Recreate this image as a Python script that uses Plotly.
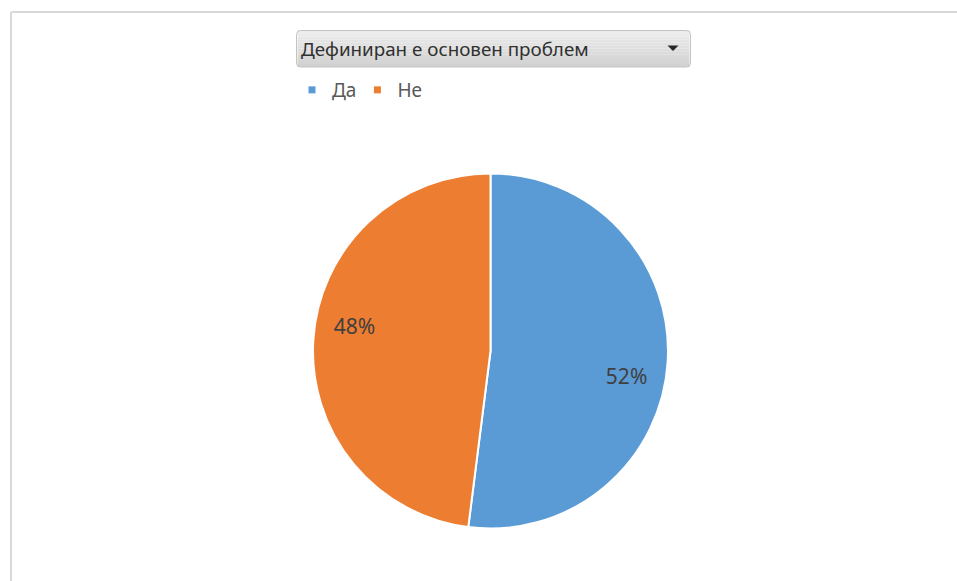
import plotly.graph_objects as go

# ---- data ----
categories = ["Да", "Не"]
values = [52, 48]
colors = ["#5B9BD5", "#ED7D31"]
filter_label = "Дефиниран е основен проблем"

W, H = 957, 581
FONT = "Noto Sans"


def px(x):
    return x / W


def py(y):
    return 1 - y / H


pie_domain = dict(x=[px(313), px(668)], y=[py(529), py(173)])

fig = go.Figure()

# the pie itself
fig.add_trace(go.Pie(
    labels=categories,
    values=values,
    sort=False,
    direction="clockwise",
    rotation=0,
    marker=dict(colors=colors, line=dict(color="white", width=2)),
    textinfo="none",
    domain=pie_domain,
    showlegend=False,
    hoverinfo="label+percent",
))

# percentage labels (same data, transparent ring so labels sit near the rim)
fig.add_trace(go.Pie(
    labels=categories,
    values=values,
    sort=False,
    direction="clockwise",
    rotation=7,
    hole=0.56,
    marker=dict(colors=["rgba(0,0,0,0)"] * len(values), line=dict(width=0)),
    textinfo="percent",
    textposition="inside",
    insidetextorientation="horizontal",
    textfont=dict(family=FONT, size=21, color="#404040"),
    domain=pie_domain,
    showlegend=False,
    hoverinfo="skip",
))

# legend entries (small square markers as in the original)
for name, col in zip(categories, colors):
    fig.add_trace(go.Scatter(
        x=[None], y=[None], mode="markers", name=name,
        marker=dict(symbol="square", size=7, color=col),
    ))

shapes = []
# chart area border (top and left)
shapes.append(dict(type="line", xref="paper", yref="paper",
                   x0=px(11), x1=1.01, y0=py(12), y1=py(12),
                   line=dict(color="#d9d9d9", width=2)))
shapes.append(dict(type="line", xref="paper", yref="paper",
                   x0=px(11), x1=px(11), y0=py(12), y1=-0.01,
                   line=dict(color="#d9d9d9", width=2)))

# filter dropdown button (rounded rectangle with gradient)
x0, x1, y0, y1, r = 296.5, 690.5, 30.5, 67.0, 4
n = 12
top_c = (236, 236, 236)
bot_c = (210, 210, 210)
for i in range(n):
    t = i / (n - 1)
    c = tuple(int(top_c[k] + (bot_c[k] - top_c[k]) * t) for k in range(3))
    ya = y0 + (y1 - y0) * i / n
    yb = y0 + (y1 - y0) * (i + 1) / n
    shapes.append(dict(type="rect", xref="paper", yref="paper",
                       x0=px(x0 + 1), x1=px(x1 - 1), y0=py(ya), y1=py(yb),
                       fillcolor="rgb(%d,%d,%d)" % c, line=dict(width=0)))


def rounded_path(x0, y0, x1, y1, r):
    pts = [
        f"M {px(x0 + r)},{py(y0)}",
        f"L {px(x1 - r)},{py(y0)}",
        f"Q {px(x1)},{py(y0)} {px(x1)},{py(y0 + r)}",
        f"L {px(x1)},{py(y1 - r)}",
        f"Q {px(x1)},{py(y1)} {px(x1 - r)},{py(y1)}",
        f"L {px(x0 + r)},{py(y1)}",
        f"Q {px(x0)},{py(y1)} {px(x0)},{py(y1 - r)}",
        f"L {px(x0)},{py(y0 + r)}",
        f"Q {px(x0)},{py(y0)} {px(x0 + r)},{py(y0)} Z",
    ]
    return " ".join(pts)


shapes.append(dict(type="path", xref="paper", yref="paper",
                   path=rounded_path(x0, y0, x1, y1, r),
                   fillcolor="rgba(0,0,0,0)",
                   line=dict(color="#c3c3c3", width=1)))
# dropdown arrow
shapes.append(dict(type="path", xref="paper", yref="paper",
                   path=f"M {px(667.5)},{py(45.5)} L {px(678.5)},{py(45.5)} L {px(673)},{py(51)} Z",
                   fillcolor="#262626", line=dict(width=0)))

annotations = [
    dict(text=filter_label, xref="paper", yref="paper",
         x=px(299), y=py(49.5), xanchor="left", yanchor="middle",
         showarrow=False, font=dict(family=FONT, size=18.8, color="#303030")),
]

fig.update_layout(
    width=W, height=H,
    margin=dict(l=0, r=0, t=0, b=0),
    paper_bgcolor="white",
    plot_bgcolor="white",
    xaxis=dict(visible=False),
    yaxis=dict(visible=False),
    shapes=shapes,
    annotations=annotations,
    legend=dict(orientation="h", x=px(296), y=py(90), xanchor="left", yanchor="middle",
                font=dict(family=FONT, size=19, color="#595959"),
                bgcolor="rgba(0,0,0,0)", itemwidth=30, traceorder="normal",
                indentation=-4),
    font=dict(family=FONT),
)

fig.write_html("out.html", config={"displayModeBar": False},
               post_script="document.body.style.margin='0';document.body.style.overflow='hidden';")
